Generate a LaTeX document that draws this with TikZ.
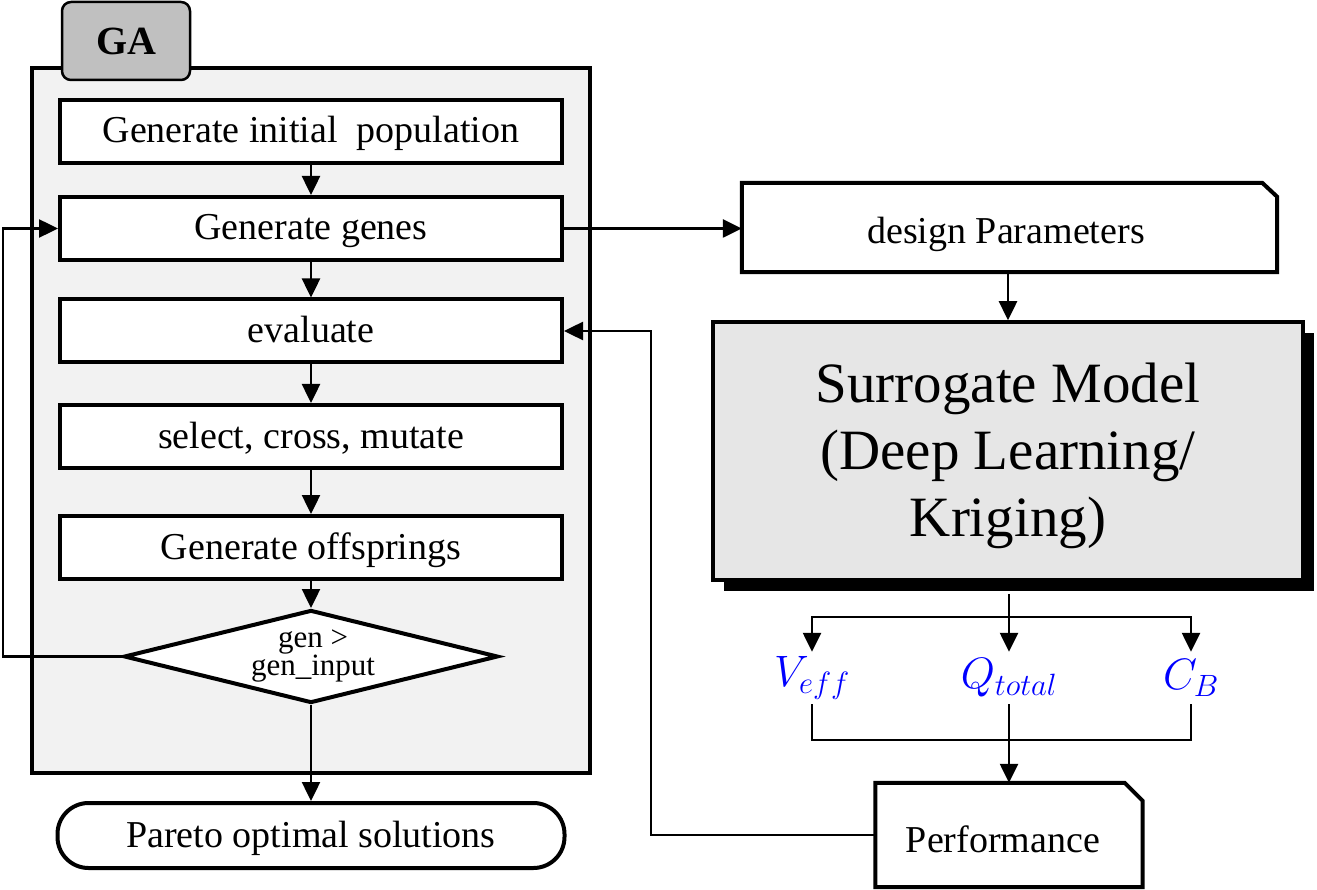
\RequirePackage{fix-cm}
\documentclass[tikz,border=0pt]{standalone}
\usepackage{fontspec}
\setmainfont{Liberation Serif}
\usetikzlibrary{arrows.meta,shapes.geometric,shadows}
\definecolor{gafill}{HTML}{F2F2F2}
\definecolor{tabfill}{HTML}{C0C0C0}
\definecolor{smfill}{HTML}{E6E6E6}
\definecolor{labblue}{HTML}{0000FF}
\begin{document}
\begin{tikzpicture}[x=1pt,y=-1pt,
  txt/.style={font=\fontsize{38}{44}\selectfont, text height=32pt, text depth=9pt},
  stepbox/.style={draw, line width=4pt, fill=white, minimum width=502pt, minimum height=63pt, inner sep=0pt, txt},
  conn/.style={line width=2.5pt},
  arr/.style={conn, -{Triangle[length=19pt,width=18pt]}},
  lab/.style={text=labblue, inner sep=0pt, minimum height=52pt, font=\fontsize{44}{50}\selectfont}]
\useasboundingbox (0,0) rectangle (1317,890);

% GA container and tab
\node[draw, line width=4pt, fill=gafill, minimum width=558pt, minimum height=705pt, inner sep=0pt] (gabox) at (311,420.5) {};
\node[draw, line width=2.5pt, fill=tabfill, rounded corners=9pt, minimum width=128pt, minimum height=78pt, inner sep=0pt, font=\fontsize{40}{46}\selectfont\bfseries] (ga) at (126,41) {GA};

% GA steps
\node[stepbox] (b1) at (311,131.5) {Generate initial\hspace{0.25em} population};
\node[stepbox] (b2) at (311,228.5) {Generate genes};
\node[stepbox] (b3) at (311,331) {evaluate};
\node[stepbox] (b4) at (311,436.5) {select, cross, mutate};
\node[stepbox] (b5) at (311,547.5) {Generate offsprings};
\node[draw, diamond, line width=4pt, fill=white, minimum width=374pt, minimum height=93pt, inner sep=0pt] (d) at (311,656.5) {};
\node[align=center, inner sep=0pt, font=\fontsize{31}{28}\selectfont] (dtxt) at (313,656) {gen >\\gen\_input};
\node[draw, line width=4pt, fill=white, rounded corners=31pt, minimum width=507pt, minimum height=65pt, inner sep=0pt, txt] (p) at (311,835.5) {Pareto optimal solutions};

\draw[arr] (b1.south) -- (b2.north);
\draw[arr] (b2.south) -- (b3.north);
\draw[arr] (b3.south) -- (b4.north);
\draw[arr] (b4.south) -- (b5.north);
\draw[arr] (b5.south) -- (d.north);
\draw[arr] (d.south) -- (p.north);
\coordinate (loop) at (3,656.5);
\draw[arr] (d.west) -- (loop) |- (b2.west);

% design parameters
\node[minimum width=535pt, minimum height=89pt, inner sep=0pt] (dp) at (1009.5,227.5) {};
\draw[line width=4pt, fill=white] (dp.south west) -- (dp.north west) -- ([xshift=-15pt]dp.north east) -- ([yshift=-14pt]dp.north east) -- (dp.south east) -- cycle;
\node[txt, inner sep=0pt] (dptxt) at (1006,232.5) {design Parameters};
\draw[arr] (b2.east) -- (b2.east -| dp.west);

% surrogate model
\node[draw, line width=3.5pt, fill=smfill, minimum width=590pt, minimum height=258pt, inner sep=0pt,
  drop shadow={shadow xshift=11pt, shadow yshift=-11pt, fill=black, opacity=1}] (sm) at (1008,451) {};
\node[align=center, inner sep=0pt, font=\fontsize{57}{67}\selectfont] (smtxt) at (1008,456) {Surrogate Model\\(Deep Learning/\\Kriging)};
\draw[arr] (dp.south -| sm.north) -- (sm.north);

% outputs
\node[lab] (ve) at (812,678) {$V_{eff}$};
\node[lab] (qt) at (1009,678) {$Q_{total}$};
\node[lab] (cb) at (1191,678) {$C_B$};
\coordinate (br) at (1009,617);
\draw[arr] (sm.south -| qt.north) ++(0,12) -- (qt.north);
\draw[arr] (br) -| (ve.north);
\draw[arr] (br) -| (cb.north);
\coordinate (jn) at (1009,740);
\draw[conn] (ve.south) |- (jn) -| (cb.south);

% performance
\node[minimum width=267pt, minimum height=104pt, inner sep=0pt] (perf) at (1009,835) {};
\draw[line width=4pt, fill=white] (perf.south west) -- (perf.north west) -- ([xshift=-18pt]perf.north east) -- ([yshift=-18pt]perf.north east) -- (perf.south east) -- cycle;
\node[txt, inner sep=0pt] (perftxt) at (1003,840.5) {Performance};
\draw[arr] (qt.south) -- (perf.north);
\coordinate (fb) at (651,835);
\draw[arr] (perf.west) -- (fb) |- (b3.east);
\end{tikzpicture}
\end{document}
